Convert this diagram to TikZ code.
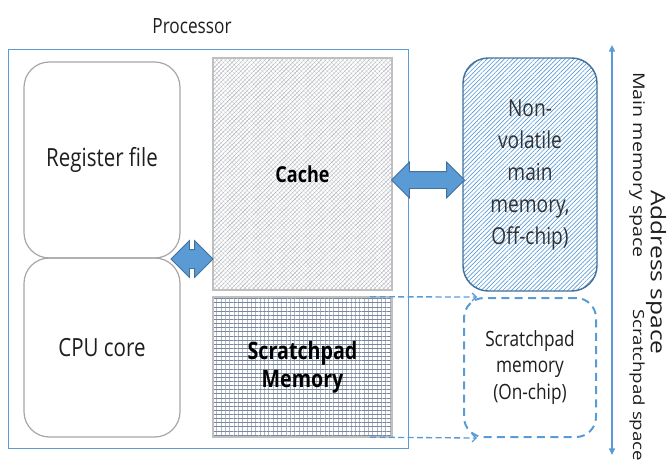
\documentclass[tikz,border=0pt]{standalone}
\usepackage{fontspec}
\setmainfont{Open Sans}[FakeStretch=0.82]
\newfontfamily\rotsans{Open Sans}
\usetikzlibrary{fit,shapes.arrows,patterns.meta,arrows.meta,calc}

\definecolor{axisblue}{RGB}{91,155,213}
\definecolor{edgeblue}{RGB}{65,113,156}
\definecolor{boxgray}{RGB}{166,166,166}
\definecolor{paleedge}{RGB}{191,191,191}
\definecolor{gridslate}{RGB}{120,135,160}
\definecolor{gridpale}{RGB}{178,182,190}
\definecolor{hatchgray}{RGB}{130,135,145}
\definecolor{inkdark}{RGB}{30,30,30}
\definecolor{inkgray}{RGB}{50,50,50}

\newcommand\fsz[2]{\fontsize{#1}{#2}\selectfont}

\begin{document}
\begin{tikzpicture}[x=0.75pt,y=-0.75pt,
  region/.style={fit={#1}, inner sep=0pt},
  caption/.style={align=center, inner sep=0pt},
  softbox/.style={draw=boxgray, line width=0.9pt, rounded corners=19pt},
  softtext/.style={caption, text=inkdark, font=\fsz{18.75}{22}},
  memblock/.style={draw=paleedge, line width=0.9pt},
  blockarrow/.style={double arrow, fill=axisblue, draw=edgeblue, line width=0.6pt,
    inner xsep=0pt, text height=0pt, text depth=0pt},
  spacelabel/.style={rotate=-90, anchor=west, inner sep=0pt, text=inkdark},
  linkline/.style={draw=axisblue, line width=1pt, dash pattern=on 4.5pt off 2.5pt,
    -{Straight Barb[length=3pt,width=6pt]}}
]
\useasboundingbox (0,0) rectangle (667,468);

% processor frame and its title
\node[region={(8,49)(408,448)}, draw=axisblue, line width=0.75pt] (proc) {};
\node[anchor=base, font=\fsz{15.75}{19}, text=inkdark] (proctitle) at (192,33) {Processor};

% register file and CPU core
\node[softbox, region={(24,62)(180,258)}] (reg) {};
\node[softbox, region={(24,258)(180,437)}] (cpu) {};
\node[softtext] (regtext) at (reg.center) {Register file};
\node[softtext] (cputext) at (cpu.center) {CPU core};

% cache and on-chip scratchpad
\node[memblock, region={(213,58)(392,290)},
  preaction={pattern={Lines[angle=-45,distance=2.3pt,line width=0.3pt]}, pattern color=hatchgray!35},
  pattern={Lines[angle=45,distance=2.3pt,line width=0.3pt]}, pattern color=hatchgray!70] (cache) {};
\node[memblock, region={(213,297)(392,437)},
  preaction={pattern={Lines[angle=90,distance=3.25pt,line width=0.3pt]}, pattern color=gridpale},
  pattern={Lines[angle=0,distance=3.1pt,line width=0.35pt]}, pattern color=gridslate] (scratch) {};
\node[caption, font=\fsz{16.5}{20}\bfseries] (cachetext) at (cache.center) {Cache};
\node[caption, font=\fsz{18}{21}\bfseries] (scratchtext) at (scratch.center) {Scratchpad\\Memory};

% off-chip main memory and the scratchpad address window
\node[region={(463,58)(597,291)}, draw=edgeblue, line width=1.1pt, rounded corners=19pt,
  pattern={Lines[angle=45,distance=2.3pt,line width=0.5pt]}, pattern color=axisblue] (nvm) {};
\node[region={(464,298)(596,437)}, draw=axisblue, line width=1.5pt,
  dash pattern=on 6pt off 4pt, rounded corners=15pt] (spm) {};
\node[caption, text=inkgray, font=\fsz{17.5}{24}] (nvmtext) at (nvm.center) {Non-\\volatile\\main\\memory,\\Off-chip)};
\node[caption, text=inkdark, font=\fsz{15.75}{20}] (spmtext) at (spm.center) {Scratchpad\\memory\\(On-chip)};

% data paths
\node[blockarrow, minimum height=31.5pt, inner ysep=6.75pt,
  double arrow head extend=6.75pt] (corelink) at (192,259) {};
\node[blockarrow, minimum height=54.75pt, inner ysep=6pt,
  double arrow head extend=7.1pt] (memlink) at (428,180) {};

% scratchpad mapped into the address space
\draw[linkline] ($(scratch.north east)+(-22,0)$) -- ($(spm.north west)+(14,0)$);
\draw[linkline] ($(scratch.south east)+(-22,0)$) -- ($(spm.south west)+(14,0)$);

% address space axis
\coordinate (axtop) at (612,45);
\coordinate (axbot) at (612,455);
\draw[axisblue, line width=1.1pt, {Triangle[length=5pt,width=4.5pt]}-{Triangle[length=5pt,width=4.5pt]}] (axtop) -- (axbot);

\node[spacelabel, font=\rotsans\fsz{14.7}{17}] (mainlbl) at (637,72) {\scalebox{1}[0.82]{Main memory space}};
\node[spacelabel, font=\rotsans\fsz{18.4}{21}] (addrlbl) at (656,190) {\scalebox{1}[0.82]{Address space}};
\node[spacelabel, font=\rotsans\fsz{14}{17}] (spclbl) at (637,309) {\scalebox{1}[0.82]{Scratchpad space}};
\end{tikzpicture}
\end{document}
